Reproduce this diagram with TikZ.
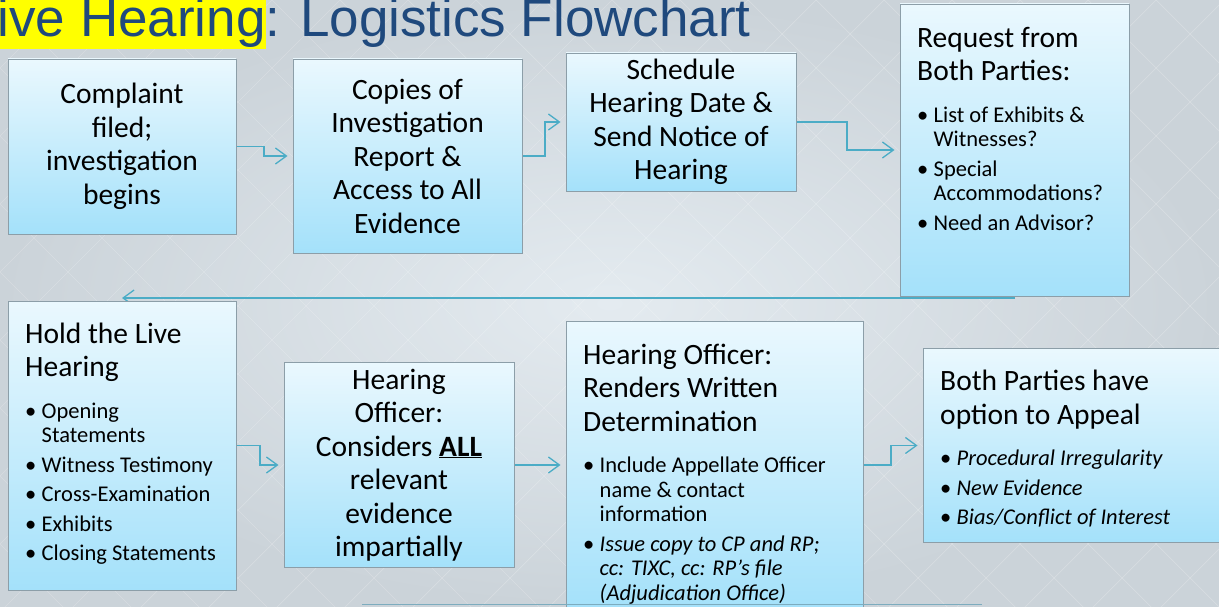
\documentclass[tikz,border=0pt]{standalone}
\usepackage{fontspec}
\setmainfont{Carlito}
\newfontfamily\titlefont{Liberation Sans}
\usetikzlibrary{arrows.meta}
\pgfdeclarelayer{bglayer}
\pgfdeclarelayer{connlayer}
\pgfsetlayers{bglayer,connlayer,main}
\definecolor{boxtop}{RGB}{234,248,254}
\definecolor{boxbot}{RGB}{164,225,250}
\definecolor{boxedge}{RGB}{140,158,168}
\definecolor{conncol}{RGB}{75,172,198}
\definecolor{titleblue}{RGB}{31,73,125}
\definecolor{bgin}{RGB}{228,235,240}
\definecolor{bgout}{RGB}{203,211,217}
\definecolor{hlyellow}{RGB}{255,255,0}
\definecolor{bottomlinecol}{RGB}{125,172,190}
\newcommand\hdfont{\fontsize{29.5}{33.5}\selectfont\parindent=0pt\relax}
\newcommand\itfont{\fontsize{22.5}{24.5}\selectfont}
\newcommand\bitem[1]{{\itfont\hangindent=16.5pt\hangafter=1\noindent\makebox[16.5pt][l]{\textbullet}#1\par}}
\newcommand\firstgap{\vskip17pt}
\newcommand\itemgap{\vskip5pt}
\begin{document}
\begin{tikzpicture}[x=1pt,y=-1pt,
  box/.style={draw=boxedge, line width=0.9pt, top color=boxtop, bottom color=boxbot,
    inner sep=0pt, outer sep=0pt, align=center, font=\hdfont},
  txt/.style={inner sep=0pt, align=flush left, anchor=north west, font=\hdfont},
  conn/.style={draw=conncol, line width=1.3pt, -{Straight Barb[length=11pt,width=16pt]}, shorten >=5.5pt}]
\useasboundingbox (0,0) rectangle (1219,607);
\begin{pgfonlayer}{bglayer}
  \shade[inner color=bgin, outer color=bgout] (0,0) rectangle (1219,607);
  \begin{scope}
    \clip (0,0) rectangle (1219,607);
    \foreach \c in {-680,-612,...,1224} {
      \draw[white, opacity=0.22, line width=0.7pt] (\c,0) -- ++(610,610);
    }
    \foreach \c in {0,68,...,1904} {
      \draw[white, opacity=0.22, line width=0.7pt] (\c,0) -- ++(-610,610);
    }
  \end{scope}
  \fill[hlyellow] (0,0) rectangle (265.5,49.5);
\end{pgfonlayer}

% title
\node[anchor=base west, inner sep=0pt, text=titleblue, font=\titlefont\fontsize{53}{60}\selectfont] (title) at (-2.5,36.5) {ive Hearing: Logistics Flowchart};

% boxes
\node[box, minimum width=228pt, minimum height=175pt] (cmp) at (122,146.5) {Complaint\\filed;\\investigation\\begins};
\node[box, minimum width=229pt, minimum height=194pt] (cop) at (407.5,156) {Copies of\\Investigation\\Report \&\\Access to All\\Evidence};
\node[box, minimum width=230pt, minimum height=138pt] (sch) at (681,122) {Schedule\\Hearing Date \&\\Send Notice of\\Hearing};
\node[box, minimum width=229pt, minimum height=292pt] (req) at (1014.5,150) {};
\node[box, minimum width=228pt, minimum height=289pt] (hold) at (122,445.5) {};
\node[box, minimum width=230pt, minimum height=205pt] (cons) at (399,465) {Hearing\\Officer:\\Considers \textbf{\underline{ALL}}\\relevant\\evidence\\impartially};
\node[box, minimum width=297pt, minimum height=288pt] (rend) at (714.5,465) {};
\node[box, minimum width=317pt, minimum height=194pt] (app) at (1081.5,445.5) {};

% texts of the left-aligned boxes
\node[txt, text width=205pt] (reqt) at ([xshift=17pt,yshift=-19pt]req.north west)
  {\noindent\rule{0pt}{24pt}Request from\\Both Parties:\par\firstgap
   \bitem{List of Exhibits \&\newline Witnesses?}\itemgap
   \bitem{Special\newline Accommodations?}\itemgap
   \bitem{Need an Advisor?}};
\node[txt, text width=205pt] (holdt) at ([xshift=17pt,yshift=-18pt]hold.north west)
  {\noindent\rule{0pt}{24pt}Hold the Live\\Hearing\par\firstgap
   \bitem{Opening\newline Statements}\itemgap
   \bitem{Witness Testimony}\itemgap
   \bitem{Cross-Examination}\itemgap
   \bitem{Exhibits}\itemgap
   \bitem{Closing Statements}};
\node[txt, text width=272pt] (rendt) at ([xshift=17pt,yshift=-19pt]rend.north west)
  {\noindent\rule{0pt}{24pt}Hearing Officer:\\Renders Written\\Determination\par\firstgap
   \bitem{Include Appellate Officer\newline name \& contact\newline information}\itemgap
   \bitem{\textit{Issue copy to CP and RP;\newline cc: TIXC, cc: RP’s file\newline (Adjudication Office)}}};
\node[txt, text width=285pt] (appt) at ([xshift=17pt,yshift=-18pt]app.north west)
  {\noindent\rule{0pt}{24pt}Both Parties have\\option to Appeal\par\firstgap
   \bitem{\textit{Procedural Irregularity}}\itemgap
   \bitem{\textit{New Evidence}}\itemgap
   \bitem{\textit{Bias/Conflict of Interest}}};

% connectors
\begin{pgfonlayer}{connlayer}
  \draw[conn] (cmp.east) -- ++(28,0) |- (cop.west);
  \draw[conn] (cop.east) -- ++(23,0) |- (sch.west);
  \draw[conn] (sch.east) -- ++(51,0) |- (req.west);
  \draw[conn, shorten >=0pt] (req.south) |- ([yshift=3pt]hold.north);
  \draw[conn] (hold.east) -- ++(24,0) |- (cons.west);
  \draw[conn] (cons.east) -- (rend.west);
  \draw[conn] (rend.east) -- ++(28,0) |- (app.west);
\end{pgfonlayer}

\coordinate (bl1) at (362,604.5);
\coordinate (bl2) at (982,604.5);
\draw[draw=bottomlinecol, line width=1.3pt] (bl1) -- (bl2);
\end{tikzpicture}
\end{document}
